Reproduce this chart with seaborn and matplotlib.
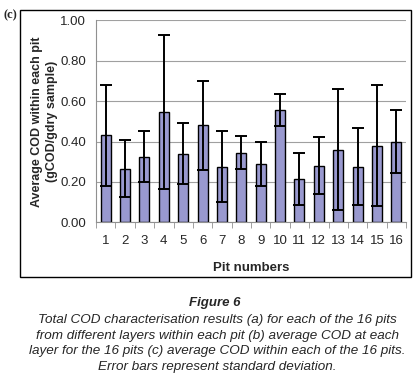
import numpy as np
import pandas as pd
import matplotlib
matplotlib.use("Agg")
import matplotlib.pyplot as plt
from matplotlib.patches import Rectangle
from matplotlib.ticker import FixedLocator
import seaborn as sns

# data
pits = [str(i) for i in range(1, 17)]
avg_cod = [0.43, 0.265, 0.325, 0.545, 0.34, 0.48, 0.275, 0.345,
           0.29, 0.555, 0.215, 0.28, 0.36, 0.275, 0.38, 0.40]
std_cod = [0.25, 0.14, 0.125, 0.38, 0.15, 0.22, 0.175, 0.083,
           0.11, 0.08, 0.128, 0.14, 0.30, 0.19, 0.30, 0.155]

df = pd.DataFrame({'pit': pits, 'cod': avg_cod, 'sd': std_cod})

sns.set_style('white')
plt.rcParams['font.family'] = ['Liberation Sans', 'DejaVu Sans']

W, H = 415, 377
fig = plt.figure(figsize=(W / 100, H / 100), dpi=100)
ax = fig.add_axes([96 / W, 1 - 222.3 / H, (406 - 96) / W, (222.3 - 20.3) / H])

sns.barplot(data=df, x='pit', y='cod', ax=ax, color='#9999CF',
            width=0.52, edgecolor='black', linewidth=1.0, saturation=1)
ax.errorbar(np.arange(len(pits)), df['cod'], yerr=df['sd'], fmt='none',
            ecolor='black', elinewidth=1.4, capsize=4.5, capthick=1.4, zorder=5)

ax.set_ylim(0, 1.0)
ax.set_xlim(-0.5, len(pits) - 0.5)
ax.set_yticks(np.arange(0, 1.01, 0.2))
ax.set_yticklabels([f'{v:.2f}' for v in np.arange(0, 1.01, 0.2)])
ax.yaxis.grid(True, color='#a0a0a0', linewidth=0.8)
ax.set_axisbelow(True)

for s in ['top', 'right']:
    ax.spines[s].set_visible(False)
for s in ['left', 'bottom']:
    ax.spines[s].set_color('#909090')
    ax.spines[s].set_linewidth(0.8)

ax.tick_params(axis='y', which='major', length=4, color='#909090', labelsize=9.5, pad=3)
ax.tick_params(axis='x', which='major', length=0, labelsize=9.5, pad=9)
ax.xaxis.set_minor_locator(FixedLocator(np.arange(-0.5, len(pits), 1.0)))
ax.tick_params(axis='x', which='minor', length=4, color='#909090', direction='out', bottom=True)

ax.set_xlabel('Pit numbers', fontsize=9.5, fontweight='bold', labelpad=11)
ax.set_ylabel('Average COD within each pit\n(gCOD/gdry sample)', fontsize=9,
              fontweight='bold', labelpad=2, linespacing=1.3)

# outer frame and panel label
fig.patches.append(Rectangle((20 / W, 1 - 277 / H), (411 - 20) / W, (277 - 10) / H,
                             transform=fig.transFigure, fill=False,
                             edgecolor='black', linewidth=1.0))
fig.text(3 / W, 1 - 15 / H, '(c)', fontsize=9, fontweight='bold',
         family=['Liberation Serif', 'DejaVu Serif'], va='center')

# caption
fig.text(215 / W, 1 - 303 / H, 'Figure 6', fontsize=9.5, fontweight='bold',
         style='italic', ha='center', va='center')
caption = ['Total COD characterisation results (a) for each of the 16 pits',
           'from different layers within each pit (b) average COD at each',
           'layer for the 16 pits (c) average COD within each of the 16 pits.',
           'Error bars represent standard deviation.']
for i, line in enumerate(caption):
    fig.text(217 / W, 1 - (320 + 15.7 * i) / H, line, fontsize=9.7,
             style='italic', ha='center', va='center')

fig.savefig('out.png', dpi=100)
